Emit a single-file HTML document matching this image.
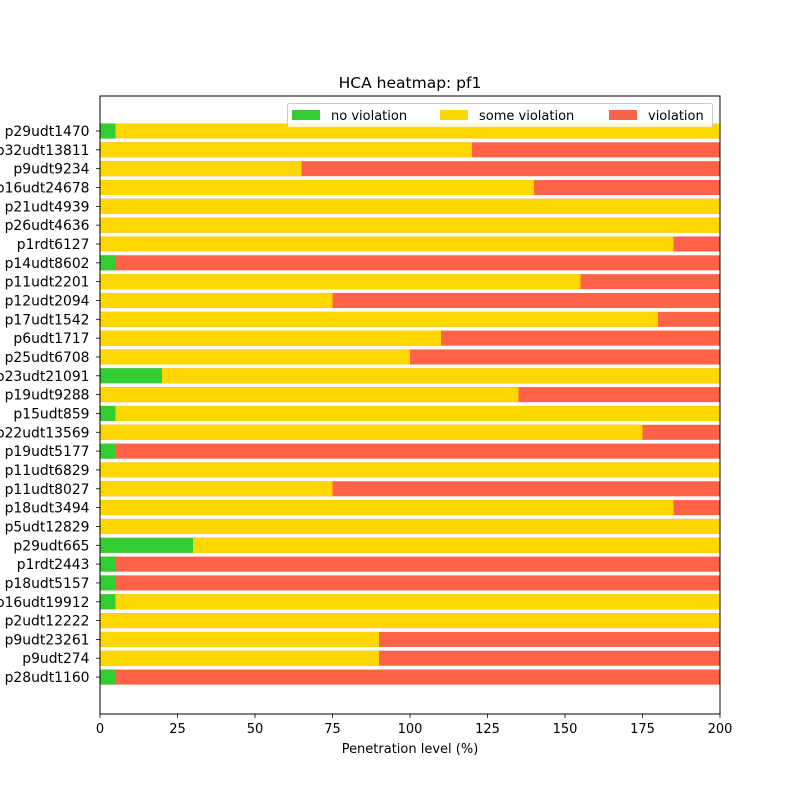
<!DOCTYPE html><html><head><style>body{margin:0;background:#fff}svg{display:block}text{font-family:"DejaVu Sans","Liberation Sans",sans-serif;font-size:13px;fill:#000}.yl text{font-size:13.9px}</style></head><body>
<svg width="800" height="800" xmlns="http://www.w3.org/2000/svg">
<defs>
<rect id="R" x="0" y="-7.53" width="620" height="15.06" fill="#ff6347"/>
<rect id="G" x="0" y="-7.53" width="15.5" height="15.06" fill="#32cd32"/>
<line id="T" x1="-4" x2="0" y1="0" y2="0" stroke="#000" stroke-width="0.8"/>
</defs>
<text x="410" y="88" text-anchor="middle" style="font-size:15.5px">HCA heatmap: pf1</text>
<g text-anchor="end" class="yl">
<g transform="translate(100,131)"><use href="#R"/><rect y="-7.53" width="620" height="15.06" fill="#ffd700"/><use href="#G"/><use href="#T"/><text x="-10.5" y="5">p29udt1470</text></g>
<g transform="translate(100,149.83)"><use href="#R"/><rect y="-7.53" width="372" height="15.06" fill="#ffd700"/><use href="#T"/><text x="-10.5" y="5">p32udt13811</text></g>
<g transform="translate(100,168.66)"><use href="#R"/><rect y="-7.53" width="201.5" height="15.06" fill="#ffd700"/><use href="#T"/><text x="-10.5" y="5">p9udt9234</text></g>
<g transform="translate(100,187.49)"><use href="#R"/><rect y="-7.53" width="434" height="15.06" fill="#ffd700"/><use href="#T"/><text x="-10.5" y="5">p16udt24678</text></g>
<g transform="translate(100,206.32)"><use href="#R"/><rect y="-7.53" width="620" height="15.06" fill="#ffd700"/><use href="#T"/><text x="-10.5" y="5">p21udt4939</text></g>
<g transform="translate(100,225.15)"><use href="#R"/><rect y="-7.53" width="620" height="15.06" fill="#ffd700"/><use href="#T"/><text x="-10.5" y="5">p26udt4636</text></g>
<g transform="translate(100,243.98)"><use href="#R"/><rect y="-7.53" width="573.5" height="15.06" fill="#ffd700"/><use href="#T"/><text x="-10.5" y="5">p1rdt6127</text></g>
<g transform="translate(100,262.81)"><use href="#R"/><use href="#G"/><use href="#T"/><text x="-10.5" y="5">p14udt8602</text></g>
<g transform="translate(100,281.64)"><use href="#R"/><rect y="-7.53" width="480.5" height="15.06" fill="#ffd700"/><use href="#T"/><text x="-10.5" y="5">p11udt2201</text></g>
<g transform="translate(100,300.47)"><use href="#R"/><rect y="-7.53" width="232.5" height="15.06" fill="#ffd700"/><use href="#T"/><text x="-10.5" y="5">p12udt2094</text></g>
<g transform="translate(100,319.3)"><use href="#R"/><rect y="-7.53" width="558" height="15.06" fill="#ffd700"/><use href="#T"/><text x="-10.5" y="5">p17udt1542</text></g>
<g transform="translate(100,338.13)"><use href="#R"/><rect y="-7.53" width="341" height="15.06" fill="#ffd700"/><use href="#T"/><text x="-10.5" y="5">p6udt1717</text></g>
<g transform="translate(100,356.96)"><use href="#R"/><rect y="-7.53" width="310" height="15.06" fill="#ffd700"/><use href="#T"/><text x="-10.5" y="5">p25udt6708</text></g>
<g transform="translate(100,375.79)"><use href="#R"/><rect y="-7.53" width="620" height="15.06" fill="#ffd700"/><rect y="-7.53" width="62" height="15.06" fill="#32cd32"/><use href="#T"/><text x="-10.5" y="5">p23udt21091</text></g>
<g transform="translate(100,394.62)"><use href="#R"/><rect y="-7.53" width="418.5" height="15.06" fill="#ffd700"/><use href="#T"/><text x="-10.5" y="5">p19udt9288</text></g>
<g transform="translate(100,413.45)"><use href="#R"/><rect y="-7.53" width="620" height="15.06" fill="#ffd700"/><use href="#G"/><use href="#T"/><text x="-10.5" y="5">p15udt859</text></g>
<g transform="translate(100,432.28)"><use href="#R"/><rect y="-7.53" width="542.5" height="15.06" fill="#ffd700"/><use href="#T"/><text x="-10.5" y="5">p22udt13569</text></g>
<g transform="translate(100,451.11)"><use href="#R"/><use href="#G"/><use href="#T"/><text x="-10.5" y="5">p19udt5177</text></g>
<g transform="translate(100,469.94)"><use href="#R"/><rect y="-7.53" width="620" height="15.06" fill="#ffd700"/><use href="#T"/><text x="-10.5" y="5">p11udt6829</text></g>
<g transform="translate(100,488.77)"><use href="#R"/><rect y="-7.53" width="232.5" height="15.06" fill="#ffd700"/><use href="#T"/><text x="-10.5" y="5">p11udt8027</text></g>
<g transform="translate(100,507.6)"><use href="#R"/><rect y="-7.53" width="573.5" height="15.06" fill="#ffd700"/><use href="#T"/><text x="-10.5" y="5">p18udt3494</text></g>
<g transform="translate(100,526.43)"><use href="#R"/><rect y="-7.53" width="620" height="15.06" fill="#ffd700"/><use href="#T"/><text x="-10.5" y="5">p5udt12829</text></g>
<g transform="translate(100,545.26)"><use href="#R"/><rect y="-7.53" width="620" height="15.06" fill="#ffd700"/><rect y="-7.53" width="93" height="15.06" fill="#32cd32"/><use href="#T"/><text x="-10.5" y="5">p29udt665</text></g>
<g transform="translate(100,564.09)"><use href="#R"/><use href="#G"/><use href="#T"/><text x="-10.5" y="5">p1rdt2443</text></g>
<g transform="translate(100,582.92)"><use href="#R"/><use href="#G"/><use href="#T"/><text x="-10.5" y="5">p18udt5157</text></g>
<g transform="translate(100,601.75)"><use href="#R"/><rect y="-7.53" width="620" height="15.06" fill="#ffd700"/><use href="#G"/><use href="#T"/><text x="-10.5" y="5">p16udt19912</text></g>
<g transform="translate(100,620.58)"><use href="#R"/><rect y="-7.53" width="620" height="15.06" fill="#ffd700"/><use href="#T"/><text x="-10.5" y="5">p2udt12222</text></g>
<g transform="translate(100,639.41)"><use href="#R"/><rect y="-7.53" width="279" height="15.06" fill="#ffd700"/><use href="#T"/><text x="-10.5" y="5">p9udt23261</text></g>
<g transform="translate(100,658.24)"><use href="#R"/><rect y="-7.53" width="279" height="15.06" fill="#ffd700"/><use href="#T"/><text x="-10.5" y="5">p9udt274</text></g>
<g transform="translate(100,677.07)"><use href="#R"/><use href="#G"/><use href="#T"/><text x="-10.5" y="5">p28udt1160</text></g>
</g>
<g stroke="#000" stroke-width="0.8">
<line x1="100" x2="100" y1="714" y2="718"/><line x1="177.5" x2="177.5" y1="714" y2="718"/><line x1="255" x2="255" y1="714" y2="718"/><line x1="332.5" x2="332.5" y1="714" y2="718"/><line x1="410" x2="410" y1="714" y2="718"/><line x1="487.5" x2="487.5" y1="714" y2="718"/><line x1="565" x2="565" y1="714" y2="718"/><line x1="642.5" x2="642.5" y1="714" y2="718"/><line x1="720" x2="720" y1="714" y2="718"/>
</g>
<g text-anchor="middle">
<text x="100" y="733">0</text><text x="177.5" y="733">25</text><text x="255" y="733">50</text><text x="332.5" y="733">75</text><text x="410" y="733">100</text><text x="487.5" y="733">125</text><text x="565" y="733">150</text><text x="642.5" y="733">175</text><text x="720" y="733">200</text>
<text x="410" y="753">Penetration level (%)</text>
</g>
<rect x="100" y="96" width="620" height="618" fill="none" stroke="#000" stroke-width="1"/>
<rect x="287.5" y="103.5" width="425" height="24" rx="2" fill="#fff" fill-opacity="0.8" stroke="#ccc"/>
<rect x="292" y="110" width="28" height="10" fill="#32cd32"/><text x="331" y="120">no violation</text>
<rect x="440" y="110" width="28" height="10" fill="#ffd700"/><text x="479" y="120">some violation</text>
<rect x="609" y="110" width="28" height="10" fill="#ff6347"/><text x="648" y="120">violation</text>
</svg></body></html>
